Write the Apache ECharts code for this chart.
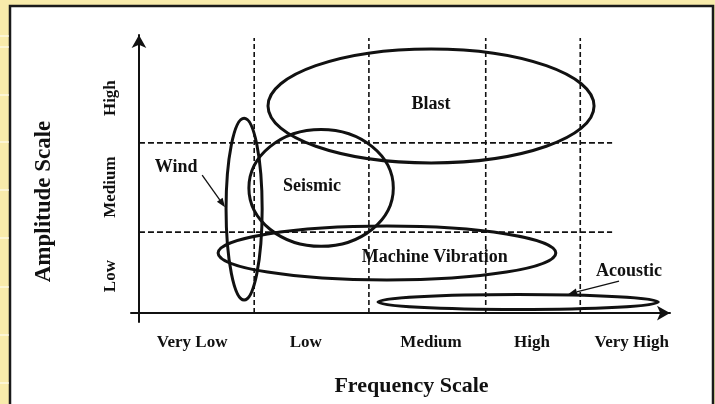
<!DOCTYPE html>
<html>
<head>
<meta charset="utf-8">
<script src="https://cdn.jsdelivr.net/npm/echarts@6/dist/echarts.min.js"></script>
<style>
  html, body { margin: 0; padding: 0; background: #f8ebab; }
  #main { width: 715px; height: 404px; }
</style>
</head>
<body>
<div id="main"></div>
<script>
// 坐标轴分区与标签
const freqLabels = ['Very Low', 'Low', 'Medium', 'High', 'Very High'];
const freqLabelAt = [10.0, 31.4, 55.0, 74.0, 92.8];
const freqBounds = [21.7, 43.3, 65.3, 83.1];
const ampLabels = ['Low', 'Medium', 'High'];
const ampLabelAt = [13.3, 45.3, 77.3];
const ampBounds = [29.1, 61.2];

// 各类振动源的椭圆范围
const sourceNames = ['Blast', 'Seismic', 'Wind', 'Machine Vibration', 'Acoustic'];
const centerFreq = [55.0, 34.3, 19.8, 46.7, 71.4];
const centerAmp = [74.5, 45.0, 37.4, 21.6, 4.0];
const spreadFreq = [30.7, 13.6, 3.4, 31.8, 26.4];
const spreadAmp = [20.5, 21.0, 32.7, 9.7, 2.7];
const labelFreq = [55.0, 32.6, 7.0, 55.7, 92.3];
const labelAmp = [75.0, 45.5, 52.3, 20.1, 14.9];

// 指向箭头 (Wind, Acoustic)
const arrowFrom = [[11.9, 49.6], [90.4, 11.5]];
const arrowTo = [[16.2, 38.1], [80.8, 6.8]];

const font = "'Liberation Serif', 'Times New Roman', serif";
const ink = '#111';

let myChart = echarts.init(document.getElementById('main'));

// 左侧黄色边条上的白线
let stripeLines = [36, 47, 95, 142, 190, 238, 287, 335, 383].map(function (y) {
    return {
        type: 'line', z: -5,
        shape: { x1: 0, y1: y, x2: 9, y2: y },
        style: { stroke: '#ffffff', lineWidth: 1 }
    };
});

myChart.setOption({
    backgroundColor: '#f8ebab',
    animation: false,
    graphic: [{
        type: 'rect', z: -10,
        shape: { x: 10, y: 6, width: 703, height: 420 },
        style: { fill: '#ffffff', stroke: '#1a1a1a', lineWidth: 2.5 }
    }].concat(stripeLines),
    grid: { left: 131, right: 45, top: 35, bottom: 82 },
    xAxis: {
        type: 'value', min: -1.5, max: 100,
        name: 'Frequency Scale',
        nameLocation: 'middle',
        nameGap: 53,
        nameTextStyle: { fontFamily: font, fontWeight: 'bold', fontSize: 22, color: ink, padding: [0, 0, 0, 22] },
        axisLine: { lineStyle: { color: ink, width: 2 }, symbol: ['none', 'arrow'], symbolSize: [11, 13] },
        axisTick: { show: false },
        splitLine: { show: false },
        axisLabel: {
            customValues: freqLabelAt,
            formatter: function (v) { return freqLabels[freqLabelAt.indexOf(v)]; },
            fontFamily: font, fontWeight: 'bold', fontSize: 17, color: ink, margin: 12
        }
    },
    yAxis: {
        type: 'value', min: -3.2, max: 100,
        name: 'Amplitude Scale',
        nameLocation: 'middle',
        nameGap: 75,
        nameTextStyle: { fontFamily: font, fontWeight: 'bold', fontSize: 23, color: ink, padding: [0, 46, 0, 0] },
        axisLine: { lineStyle: { color: ink, width: 2 }, symbol: ['none', 'arrow'], symbolSize: [11, 13] },
        axisTick: { show: false },
        splitLine: { show: false },
        axisLabel: {
            customValues: ampLabelAt,
            rotate: 90,
            formatter: function (v) { return ampLabels[ampLabelAt.indexOf(v)]; },
            fontFamily: font, fontWeight: 'bold', fontSize: 17, color: ink, margin: 12
        }
    },
    series: [
        {
            // 竖向分区虚线
            type: 'custom',
            data: freqBounds.map(function (v) { return [v]; }),
            renderItem: function (params, api) {
                let a = api.coord([api.value(0), 0]);
                let b = api.coord([api.value(0), 98.9]);
                return {
                    type: 'line',
                    shape: { x1: a[0], y1: a[1], x2: b[0], y2: b[1] },
                    style: { stroke: ink, lineWidth: 1.6, lineDash: [5, 3] }
                };
            }
        },
        {
            // 横向分区虚线
            type: 'custom',
            data: ampBounds.map(function (v) { return [v]; }),
            renderItem: function (params, api) {
                let a = api.coord([0, api.value(0)]);
                let b = api.coord([89.1, api.value(0)]);
                return {
                    type: 'line',
                    shape: { x1: a[0], y1: a[1], x2: b[0], y2: b[1] },
                    style: { stroke: ink, lineWidth: 1.6, lineDash: [6, 3] }
                };
            }
        },
        {
            // 椭圆
            type: 'custom',
            data: sourceNames.map(function (n, i) {
                return [centerFreq[i], centerAmp[i], spreadFreq[i], spreadAmp[i]];
            }),
            renderItem: function (params, api) {
                let c = api.coord([api.value(0), api.value(1)]);
                let s = api.size([api.value(2), api.value(3)]);
                return {
                    type: 'ellipse',
                    shape: { cx: c[0], cy: c[1], rx: s[0], ry: s[1] },
                    style: { fill: 'none', stroke: ink, lineWidth: 3 }
                };
            }
        },
        {
            // 名称
            type: 'custom',
            data: sourceNames.map(function (n, i) { return [labelFreq[i], labelAmp[i], n]; }),
            renderItem: function (params, api) {
                let c = api.coord([api.value(0), api.value(1)]);
                return {
                    type: 'text',
                    style: {
                        x: c[0], y: c[1], text: sourceNames[params.dataIndex],
                        align: 'center', verticalAlign: 'middle',
                        font: 'bold 18px ' + font, fill: ink
                    }
                };
            }
        },
        {
            // 箭头
            type: 'custom',
            data: arrowFrom.map(function (f, i) { return [f[0], f[1], arrowTo[i][0], arrowTo[i][1]]; }),
            renderItem: function (params, api) {
                let a = api.coord([api.value(0), api.value(1)]);
                let b = api.coord([api.value(2), api.value(3)]);
                let ang = Math.atan2(b[1] - a[1], b[0] - a[0]);
                let L = 9, W = 3.5;
                let bx = b[0] - L * Math.cos(ang), by = b[1] - L * Math.sin(ang);
                let px = -Math.sin(ang) * W, py = Math.cos(ang) * W;
                return {
                    type: 'group',
                    children: [{
                        type: 'line',
                        shape: { x1: a[0], y1: a[1], x2: bx, y2: by },
                        style: { stroke: ink, lineWidth: 1.3 }
                    }, {
                        type: 'polygon',
                        shape: { points: [[b[0], b[1]], [bx + px, by + py], [bx - px, by - py]] },
                        style: { fill: ink }
                    }]
                };
            }
        }
    ]
});
</script>
</body>
</html>
